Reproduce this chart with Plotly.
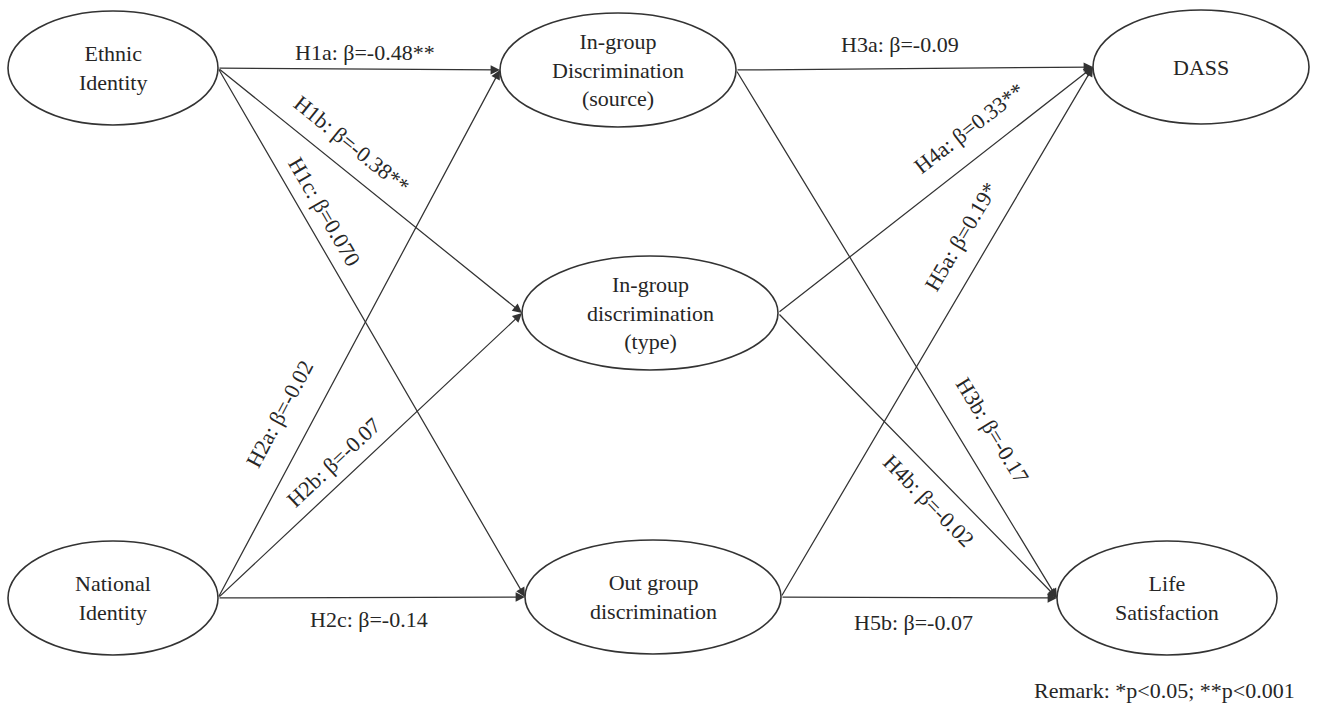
import math
import plotly.graph_objects as go

# ---- data ----
node_ids = ["ethnic", "national", "source", "type", "out", "dass", "life"]
node_labels = ["Ethnic<br>Identity", "National<br>Identity",
               "In-group<br>Discrimination<br>(source)",
               "In-group<br>discrimination<br>(type)",
               "Out group<br>discrimination", "DASS", "Life<br>Satisfaction"]

edge_from = ["ethnic", "ethnic", "ethnic", "national", "national", "national",
             "source", "source", "type", "type", "out", "out"]
edge_to = ["source", "type", "out", "source", "type", "out",
           "dass", "life", "dass", "life", "dass", "life"]
hypotheses = ["H1a", "H1b", "H1c", "H2a", "H2b", "H2c",
              "H3a", "H3b", "H4a", "H4b", "H5a", "H5b"]
betas = ["-0.48", "-0.38", "0.070", "-0.02", "-0.07", "-0.14",
         "-0.09", "-0.17", "0.33", "-0.02", "0.19", "-0.07"]
stars = ["**", "**", "", "", "", "", "", "", "**", "", "*", ""]
remark = "Remark: *p<0.05; **p<0.001"

# ---- layout (pixel space) ----
W, H = 1317, 710
node_center = {"ethnic": (113, 68), "national": (113, 598), "source": (618, 70),
               "type": (650, 313), "out": (653, 597), "dass": (1201, 67),
               "life": (1167, 598)}
node_rx = {"ethnic": 105, "national": 105, "source": 118, "type": 128,
           "out": 128, "dass": 108, "life": 110}
RY = 57
label_t = [0.52, 0.39, 0.29, 0.32, 0.425, 0.49, 0.46, 0.714, 0.66, 0.60, 0.654, 0.48]
label_off = [17, 24, 20, 32, 20, -22, 24, 32, 28, -24, 28, -25]

FONT = "Liberation Serif, Times New Roman, serif"
LINE = "#333333"
TXT = "#262626"

fig = go.Figure()
fig.add_trace(go.Scatter(x=[0, W], y=[0, H], mode="markers",
                         marker=dict(opacity=0), hoverinfo="skip", showlegend=False))

shapes = []
annotations = []
for nid, lab in zip(node_ids, node_labels):
    cx, cy = node_center[nid]
    rx = node_rx[nid]
    shapes.append(dict(type="circle", xref="x", yref="y",
                       x0=cx - rx, x1=cx + rx, y0=cy - RY, y1=cy + RY,
                       line=dict(color=LINE, width=1.6), fillcolor="white",
                       layer="below"))
    annotations.append(dict(x=cx, y=cy, xref="x", yref="y", text=lab,
                            showarrow=False, font=dict(family=FONT, size=22, color=TXT),
                            align="center"))

for f, t, h, b, s, lt, lo in zip(edge_from, edge_to, hypotheses, betas, stars,
                                 label_t, label_off):
    sx = node_center[f][0] + node_rx[f]
    sy = node_center[f][1]
    ex = node_center[t][0] - node_rx[t]
    ey = node_center[t][1]
    annotations.append(dict(x=ex, y=ey, ax=sx, ay=sy, xref="x", yref="y",
                            axref="x", ayref="y", text="", showarrow=True,
                            arrowhead=2, arrowsize=1.5, arrowwidth=1.25,
                            arrowcolor=LINE, standoff=0, startstandoff=0))
    dx, dy = ex - sx, ey - sy
    L = math.hypot(dx, dy)
    ux, uy = dx / L, dy / L
    nx, ny = uy, -ux
    px = sx + dx * lt + nx * lo
    py = sy + dy * lt + ny * lo
    ang = math.degrees(math.atan2(dy, dx))
    if abs(ang) < 1:
        ang = 0
    annotations.append(dict(x=px, y=py, xref="x", yref="y",
                            text=f"{h}: β={b}{s}", showarrow=False,
                            textangle=ang,
                            font=dict(family=FONT, size=22, color=TXT)))

annotations.append(dict(x=1297, y=690, xref="x", yref="y", text=remark,
                        showarrow=False, xanchor="right",
                        font=dict(family=FONT, size=22, color=TXT)))

fig.update_layout(
    width=W, height=H, autosize=False,
    margin=dict(l=0, r=0, t=0, b=0),
    paper_bgcolor="white", plot_bgcolor="white",
    xaxis=dict(range=[0, W], visible=False, fixedrange=True),
    yaxis=dict(range=[H, 0], visible=False, fixedrange=True),
    shapes=shapes, annotations=annotations, showlegend=False,
)
fig.write_html("out.html", config={"displayModeBar": False},
               post_script="document.body.style.margin='0';document.body.style.overflow='hidden';")
